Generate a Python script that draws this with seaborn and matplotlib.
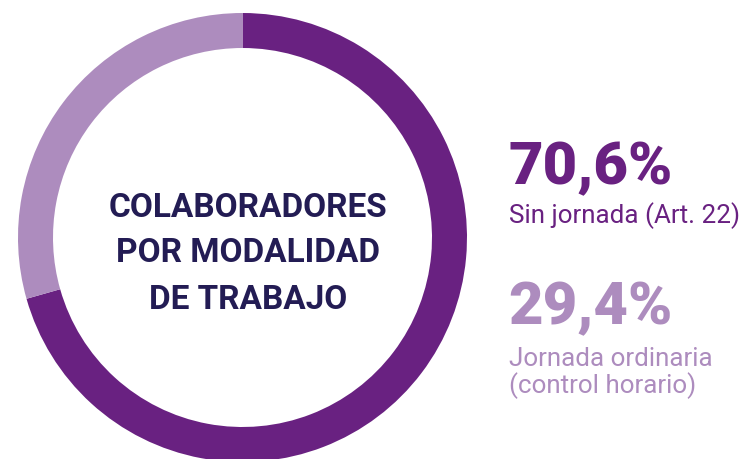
import matplotlib
matplotlib.use("Agg")
import matplotlib.pyplot as plt
import seaborn as sns

# Data
categories = ["Sin jornada (Art. 22)", "Jornada ordinaria\n(control horario)"]
values = [70.6, 29.4]
value_labels = ["70,6%", "29,4%"]
title_lines = ["COLABORADORES", "POR MODALIDAD", "DE TRABAJO"]

dark = "#692181"
light = "#AD8CBE"
navy = "#231C54"

sns.set_theme(style="white")
plt.rcParams['font.family'] = ['Roboto', 'DejaVu Sans']

W, H = 752, 459
fig = plt.figure(figsize=(W / 100, H / 100), dpi=100)
ax = fig.add_axes([0, 0, 1, 1])

cx, cy, R = 242.5, H - 237.5, 224.5
ax.pie(values, colors=[dark, light], startangle=90, counterclock=False,
       center=(cx, cy), radius=R, wedgeprops=dict(width=35, linewidth=0))
ax.set_xlim(0, W)
ax.set_ylim(0, H)
ax.set_aspect('equal')
ax.axis('off')

def py(y):
    return H - y

# Center title
for line, base in zip(title_lines, [217, 262, 309]):
    ax.text(cx + 6, py(base), line, ha='center', va='baseline', fontsize=24,
            fontweight='bold', color=navy)

# Right labels
ax.text(508, py(184), value_labels[0], ha='left', va='baseline', fontsize=43,
        fontweight='black', color=dark)
ax.text(509, py(223), categories[0], ha='left', va='baseline', fontsize=18.7,
        color=dark)
ax.text(508, py(324), value_labels[1], ha='left', va='baseline', fontsize=43,
        fontweight='black', color=light)
sub = categories[1].split("\n")
ax.text(509, py(366), sub[0], ha='left', va='baseline', fontsize=18.7, color=light)
ax.text(509, py(393), sub[1], ha='left', va='baseline', fontsize=18.7, color=light)

fig.savefig("out.png", dpi=100)
